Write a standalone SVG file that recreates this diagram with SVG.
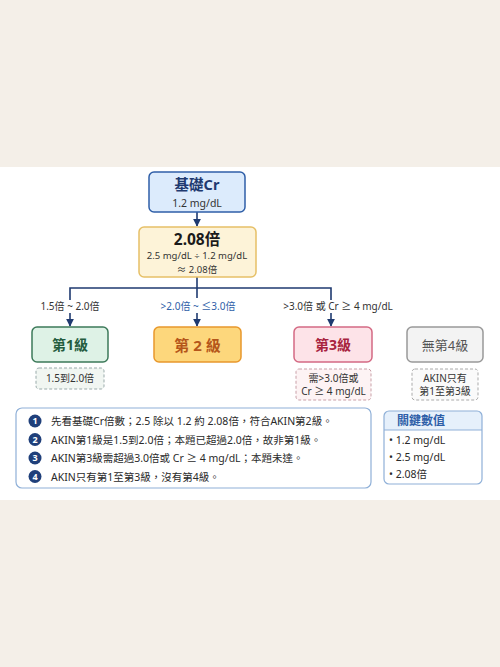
<svg xmlns="http://www.w3.org/2000/svg" width="500" height="667" viewBox="0 0 500 667">
<style>
text{font-family:"Noto Sans","Noto Sans CJK TC",sans-serif;}
.c{text-anchor:middle;}
.lbl{font-size:10px;fill:#333;}
.body{font-size:10.5px;fill:#2a2a2a;}
.num{font-size:9px;fill:#fff;font-weight:bold;text-anchor:middle;}
.dash{stroke-dasharray:3 2;stroke-width:1;}
.conn{stroke:#1f3a70;stroke-width:1.6;fill:none;}
</style>
<defs>
<marker id="ah" viewBox="0 0 10 10" refX="9" refY="5" markerWidth="5" markerHeight="5" orient="auto">
<path d="M0,0 L10,5 L0,10 z" fill="#1f3a70"/>
</marker>
</defs>
<rect x="0" y="0" width="500" height="667" fill="#f4efe8"/>
<rect x="0" y="167" width="500" height="333" fill="#ffffff"/>

<g id="connectors">
<line class="conn" x1="197" y1="212" x2="197" y2="226" marker-end="url(#ah)"/>
<line class="conn" x1="197" y1="277" x2="197" y2="288"/>
<polyline class="conn" points="70,300 70,288 331,288 331,300"/>
<line class="conn" x1="197" y1="288" x2="197" y2="298"/>
<line class="conn" x1="70" y1="313" x2="70" y2="326" marker-end="url(#ah)"/>
<line class="conn" x1="197" y1="313" x2="197" y2="326" marker-end="url(#ah)"/>
<line class="conn" x1="331" y1="313" x2="331" y2="326" marker-end="url(#ah)"/>
</g>

<g id="labels">
<text class="lbl c" x="70" y="310">1.5倍 ~ 2.0倍</text>
<text class="lbl c" x="198" y="310" style="fill:#2f5fa8">&gt;2.0倍 ~ ≤3.0倍</text>
<text class="lbl c" x="338" y="310">&gt;3.0倍 或 Cr ≥ 4 mg/dL</text>
</g>

<g id="node-base">
<rect x="149" y="172" width="96" height="40" rx="5" fill="#dcebfc" stroke="#2f5fa8" stroke-width="1.5"/>
<text class="c" x="197" y="189.5" font-size="14.5" font-weight="bold" fill="#1f3a70">基礎Cr</text>
<text class="c" x="197" y="206.5" font-size="10.5" fill="#333">1.2 mg/dL</text>
</g>

<g id="node-ratio">
<rect x="139" y="227" width="117" height="50" rx="5" fill="#fdf3d8" stroke="#e6c067" stroke-width="1.5"/>
<text class="c" x="197" y="244.5" font-size="15.5" font-weight="bold" fill="#1a1a1a">2.08倍</text>
<text class="c" x="197" y="259" font-size="9.5" fill="#333">2.5 mg/dL ÷ 1.2 mg/dL</text>
<text class="c" x="197" y="272.5" font-size="9.5" fill="#333">≈ 2.08倍</text>
</g>

<g id="node-stage1">
<rect x="32" y="327" width="76" height="35" rx="5" fill="#def2e6" stroke="#3d7a5a" stroke-width="1.5"/>
<text class="c" x="70" y="350" font-size="14" font-weight="bold" fill="#245c3e">第1級</text>
</g>
<g id="note-stage1">
<rect class="dash" x="36" y="368" width="68" height="21" rx="3" fill="#f1f6f2" stroke="#9aa"/>
<text class="c" x="70" y="382" font-size="10" fill="#333">1.5到2.0倍</text>
</g>

<g id="node-stage2">
<rect x="154" y="327" width="87" height="35" rx="5" fill="#fdd77c" stroke="#e8982c" stroke-width="1.5"/>
<text class="c" x="197.5" y="350.5" font-size="15" font-weight="bold" fill="#b5561a">第 2 級</text>
</g>

<g id="node-stage3">
<rect x="294" y="327" width="78" height="35" rx="5" fill="#fde3e8" stroke="#d46a84" stroke-width="1.5"/>
<text class="c" x="333" y="350" font-size="14" font-weight="bold" fill="#a8243f">第3級</text>
</g>
<g id="note-stage3">
<rect class="dash" x="296" y="369" width="75" height="31" rx="3" fill="#fdf3f4" stroke="#c9a0a8"/>
<text class="c" x="333.5" y="382" font-size="10" fill="#333">需&gt;3.0倍或</text>
<text class="c" x="333.5" y="395" font-size="10" fill="#333">Cr ≥ 4 mg/dL</text>
</g>

<g id="node-stage4">
<rect x="407" y="327" width="76" height="35" rx="5" fill="#f3f3f3" stroke="#999" stroke-width="1.5"/>
<text class="c" x="445" y="350" font-size="13" fill="#555">無第4級</text>
</g>
<g id="note-stage4">
<rect class="dash" x="412" y="369" width="66" height="31" rx="3" fill="#fafafa" stroke="#aaa"/>
<text class="c" x="445" y="382" font-size="10" fill="#333">AKIN只有</text>
<text class="c" x="445" y="395" font-size="10" fill="#333">第1至第3級</text>
</g>

<g id="notes">
<rect x="16" y="408" width="355" height="80" rx="6" fill="#fff" stroke="#8fb0d8" stroke-width="1.2"/>
<circle cx="35" cy="421" r="6.5" fill="#1f3f7a"/><text class="num" x="35" y="424.2">1</text>
<circle cx="35" cy="439.5" r="6.5" fill="#1f3f7a"/><text class="num" x="35" y="442.7">2</text>
<circle cx="35" cy="458" r="6.5" fill="#1f3f7a"/><text class="num" x="35" y="461.2">3</text>
<circle cx="35" cy="476.5" r="6.5" fill="#1f3f7a"/><text class="num" x="35" y="479.7">4</text>
<text class="body" x="51" y="425">先看基礎Cr倍數；2.5 除以 1.2 約 2.08倍，符合AKIN第2級。</text>
<text class="body" x="51" y="443.5">AKIN第1級是1.5到2.0倍；本題已超過2.0倍，故非第1級。</text>
<text class="body" x="51" y="462">AKIN第3級需超過3.0倍或 Cr ≥ 4 mg/dL；本題未達。</text>
<text class="body" x="51" y="480.5">AKIN只有第1至第3級，沒有第4級。</text>
</g>

<g id="key-values">
<path d="M384,430 V416 a5,5 0 0 1 5,-5 H477 a5,5 0 0 1 5,5 V430 z" fill="#e6f0fb"/>
<line x1="384" y1="430" x2="482" y2="430" stroke="#8fb0d8" stroke-width="1"/>
<rect x="384" y="411" width="98" height="73" rx="5" fill="none" stroke="#8fb0d8" stroke-width="1.2"/>
<text x="397" y="425" font-size="12" font-weight="bold" fill="#2f5fa8">關鍵數值</text>
<text class="body" x="389" y="444">• 1.2 mg/dL</text>
<text class="body" x="389" y="461">• 2.5 mg/dL</text>
<text class="body" x="389" y="478">• 2.08倍</text>
</g>
</svg>
